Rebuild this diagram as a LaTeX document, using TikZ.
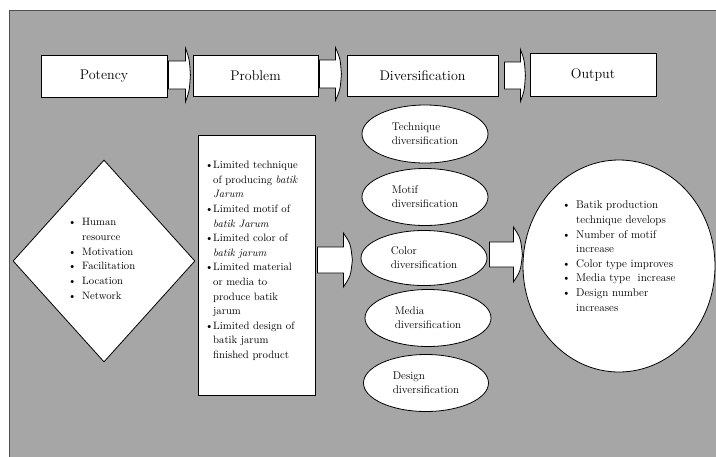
\documentclass[tikz,border=0pt]{standalone}
\usetikzlibrary{shapes.geometric,calc}
\definecolor{bggray}{RGB}{166,166,166}
\definecolor{edgegray}{RGB}{80,80,80}
\newcommand\blt[1]{\makebox[#1][l]{\textbullet}}
\newcommand\ind[1]{\hspace*{#1}}
\newcommand\barrow[5]{%
  \draw[blockarrow] (#1) ++(0,-#3) -- ++(#2,0) -- ++(0,#3-#4)
    .. controls +(0.8*#5,0.4*#4) .. ++(#5,#4)
    .. controls +(-0.2*#5,0.6*#4) .. ++(-#5,#4)
    -- ++(0,#3-#4) -- ++(-#2,0) -- cycle;}
\begin{document}
\begin{tikzpicture}[x=1pt,y=-1pt,
  hdr/.style={draw=black,line width=0.8pt,fill=white,inner sep=0pt,font=\fontsize{14}{16}\selectfont},
  ell/.style={ellipse,draw=black,line width=0.8pt,fill=white,inner sep=0pt,align=left,font=\fontsize{11.2}{14}\selectfont},
  shp/.style={draw=black,line width=0.8pt,fill=white,inner sep=0pt},
  lst/.style={inner sep=0pt,anchor=north west,align=left},
  blockarrow/.style={draw=black,line width=0.8pt,fill=white,line join=miter}]
\clip (0,0) rectangle (716,456);
\fill[white] (0,0) rectangle (716,456);
\draw[fill=bggray,draw=edgegray,line width=1pt] (9,10) rectangle (730,470);

% header row
\node[hdr,minimum width=126pt,minimum height=42pt] (pot) at (104,76) {Potency};
\node[hdr,minimum width=125pt,minimum height=41pt] (prob) at (255.5,75.5) {Problem};
\node[hdr,minimum width=151pt,minimum height=41pt] (div) at (422.5,75.5) {Diversification};
\node[hdr,minimum width=126pt,minimum height=43pt] (out) at (593,74.5) {Output};

% potency diamond
\node[shp,diamond,minimum width=182pt,minimum height=202pt] (potd) at (104,261) {};
\node[lst,font=\fontsize{10.7}{14.8}\selectfont] (potlist) at (68,218)
  {\blt{14pt}Human\\ \ind{14pt}resource\\ \blt{14pt}Motivation\\ \blt{14pt}Facilitation\\ \blt{14pt}Location\\ \blt{14pt}Network};

% problem box
\node[shp,minimum width=117pt,minimum height=260pt] (probbox) at (256.5,265) {};
\node[lst,font=\fontsize{10.7}{14.6}\selectfont] (problist) at (205,161)
  {\blt{8pt}Limited technique\\ \ind{8pt}of producing \textit{batik}\\ \ind{8pt}\textit{Jarum}\\
   \blt{8pt}Limited motif of\\ \ind{8pt}\textit{batik Jarum}\\
   \blt{8pt}Limited color of\\ \ind{8pt}\textit{batik jarum}\\
   \blt{8pt}Limited material\\ \ind{8pt}or media to\\ \ind{8pt}produce batik\\ \ind{8pt}jarum\\
   \blt{8pt}Limited design of\\ \ind{8pt}batik jarum\\ \ind{8pt}finished product};

% diversification ellipses
\node[ell,minimum width=126pt,minimum height=58pt] (tech) at (425,134) {Technique\\diversification};
\node[ell,minimum width=126pt,minimum height=57pt] (motif) at (425,197) {Motif\\diversification};
\node[ell,minimum width=126pt,minimum height=55pt] (color) at (424,258) {Color\\diversification};
\node[ell,minimum width=126pt,minimum height=57pt] (media) at (428,318) {Media\\diversification};
\node[ell,minimum width=125pt,minimum height=57pt] (design) at (426,383) {Design\\diversification};

% output ellipse
\node[shp,ellipse,minimum width=192pt,minimum height=212pt] (outell) at (619,266) {};
\node[lst,font=\fontsize{11.2}{14.6}\selectfont] (outlist) at (562,201)
  {\blt{14pt}Batik production\\ \ind{14pt}technique develops\\ \blt{14pt}Number of motif\\ \ind{14pt}increase\\
   \blt{14pt}Color type improves\\ \blt{14pt}Media type\ \ increase\\ \blt{14pt}Design number\\ \ind{14pt}increases};

% block arrows
\barrow{$(pot.east)+(1,-1)$}{17}{14}{27}{5}
\barrow{$(prob.east)+(1,-1.5)$}{16}{14}{26.5}{6}
\barrow{$(div.east)+(6,0)$}{16}{13.5}{26}{5}
\barrow{$(probbox.east)+(2,-5)$}{26}{13}{27}{9}
\barrow{$(color.east)+(2,-3.5)$}{24}{12.5}{27.5}{9}
\end{tikzpicture}
\end{document}
